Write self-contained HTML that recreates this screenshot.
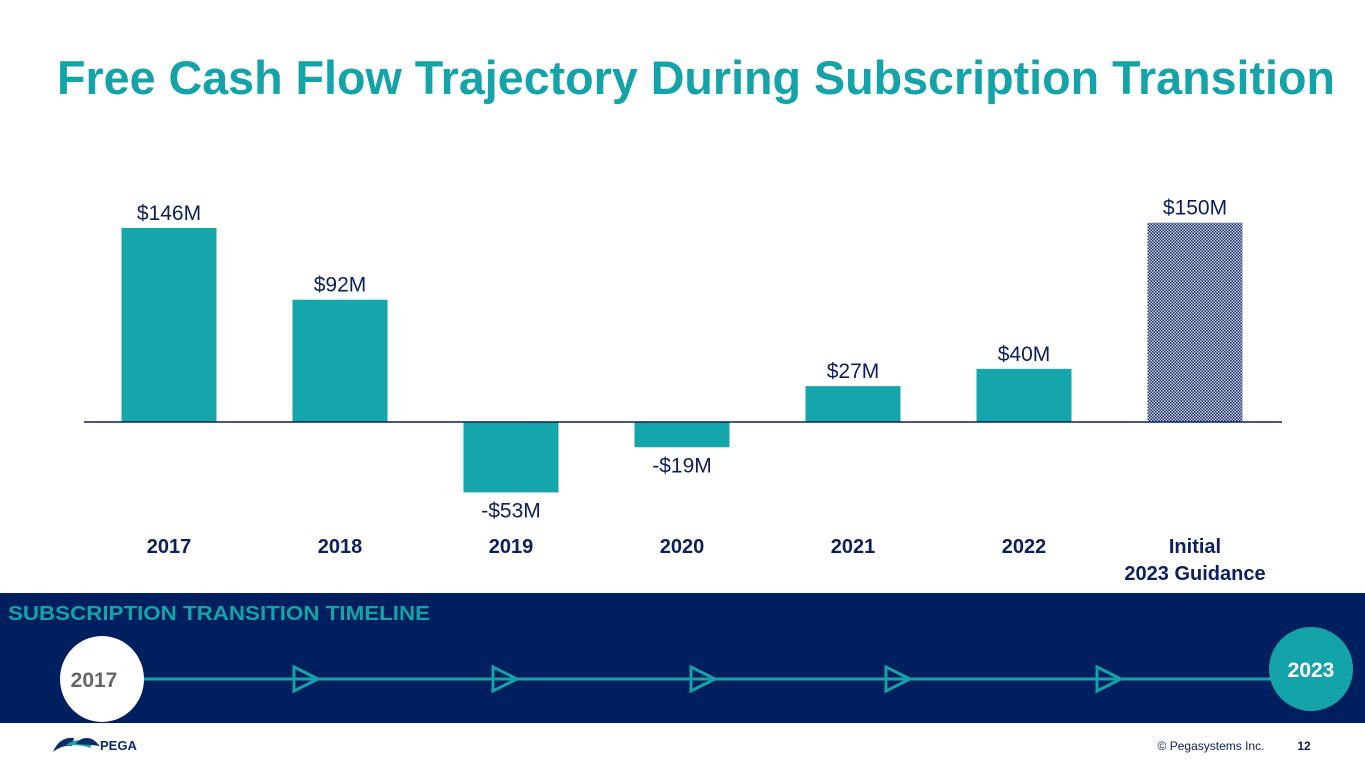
<!DOCTYPE html>
<html><head><meta charset="utf-8"><style>
body{margin:0;width:1365px;height:768px;overflow:hidden;background:#fff;font-family:"Liberation Sans",sans-serif}
svg{display:block}
</style></head><body>
<svg width="1365" height="768">
<defs>
<pattern id="chk" width="3" height="3" patternUnits="userSpaceOnUse">
<rect width="3" height="3" fill="#c9d1e3"/>
<rect width="1.5" height="1.5" fill="#1c2f6b"/>
<rect x="1.5" y="1.5" width="1.5" height="1.5" fill="#1c2f6b"/>
</pattern>
</defs>
<text x="57" y="94" font-size="47" font-weight="bold" fill="#14a3a8" textLength="1278" lengthAdjust="spacingAndGlyphs">Free Cash Flow Trajectory During Subscription Transition</text>
<g id="chart"></g>
<rect x="0" y="593" width="1365" height="130" fill="#001f5f"/>
<text x="8" y="620" font-size="20" font-weight="bold" fill="#14a3a8" textLength="422" lengthAdjust="spacingAndGlyphs">SUBSCRIPTION TRANSITION TIMELINE</text>
<line x1="140" y1="679" x2="1275" y2="679" stroke="#14a3a8" stroke-width="3"/>
<g fill="none" stroke="#14a3a8" stroke-width="3">
<path d="M294 667 L318 679 L294 691 Z"/><path d="M493 667 L517 679 L493 691 Z"/><path d="M691 667 L715 679 L691 691 Z"/><path d="M886 667 L910 679 L886 691 Z"/><path d="M1097 667 L1121 679 L1097 691 Z"/>
</g>
<ellipse cx="102" cy="679" rx="42" ry="43" fill="#fff"/>
<text x="94" y="687" font-size="21" font-weight="bold" fill="#666" text-anchor="middle">2017</text>
<ellipse cx="1311" cy="669" rx="42" ry="42" fill="#14a3a8"/>
<text x="1311" y="677" font-size="21" font-weight="bold" fill="#fff" text-anchor="middle">2023</text>
<g>
<path d="M53 752 C58 740 66 737 74 738 L72 746 C65 745 58 748 53 752Z" fill="#0d2a6b"/>
<path d="M66 745 C74 739 84 738 92 744 L90 748 C84 745 74 745 66 745Z" fill="#14a3a8"/>
<path d="M76 744 C80 737 90 736 96 742 L100 746 L92 745 Z" fill="#0d2a6b"/>
<text x="100" y="750" font-size="13" font-weight="bold" fill="#0d2a6b">PEGA</text>
</g>
<text x="1211" y="750" font-size="12" fill="#0b1f5c" text-anchor="middle">© Pegasystems Inc.</text>
<text x="1304" y="750" font-size="12" font-weight="bold" fill="#0b1f5c" text-anchor="middle">12</text>
</svg>
<script>
const categories=["2017","2018","2019","2020","2021","2022","Initial|2023 Guidance"];
const values=[146,92,-53,-19,27,40,150];
const valueLabels=["$146M","$92M","-$53M","-$19M","$27M","$40M","$150M"];
const guidance=[false,false,false,false,false,false,true];
const NS="http://www.w3.org/2000/svg";
const g=document.getElementById("chart");
const zeroY=422, scale=1.329;
function y(v){return zeroY - v*scale;}
function xc(i){return 169 + i*171;}
const bw=95;
function mk(t,a){const e=document.createElementNS(NS,t);for(const k in a)e.setAttribute(k,a[k]);g.appendChild(e);return e;}
values.forEach((v,i)=>{
  const top=Math.min(y(v),zeroY), h=Math.abs(y(v)-zeroY);
  const r=mk("rect",{x:xc(i)-bw/2,y:top,width:bw,height:h,fill:guidance[i]?"url(#chk)":"#14a6ab"});
  
  
  const ly = v>=0 ? y(v)-8 : y(v)+25;
  const t=mk("text",{x:xc(i),y:ly,"font-size":21,fill:"#0b1f5c","text-anchor":"middle"});
  t.textContent=valueLabels[i];
  
  
  const lines=categories[i].split("|");
  lines.forEach((ln,j)=>{
    const c=mk("text",{x:xc(i),y:553+j*27,"font-size":20,"font-weight":"bold",fill:"#0b1f5c","text-anchor":"middle"});
    c.textContent=ln;
    
    
  });
});
const ax=mk("line",{x1:84,y1:zeroY,x2:1282,y2:zeroY,stroke:"#0b1f5c","stroke-width":1.5});


</script>
</body></html>
